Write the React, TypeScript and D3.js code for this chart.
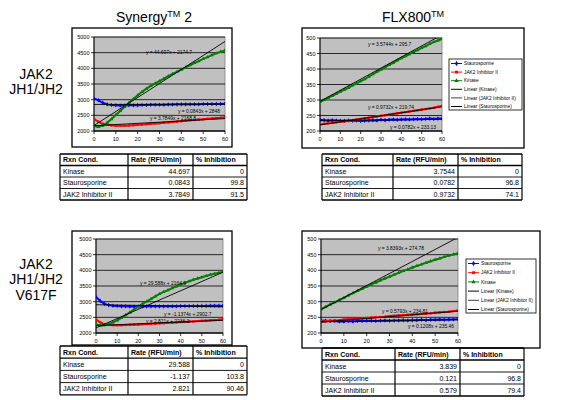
import React from "react";
import * as d3 from "d3";

// Reading times (min)
const minutes = [0, 2, 4, 6, 8, 10, 12, 14, 16, 18, 20, 22, 24, 26, 28, 30, 32, 34, 36, 38, 40, 42, 44, 46, 48, 50, 52, 54, 56, 58, 60];

// JAK2 JH1/JH2 — Synergy 2 (RFU)
const synKinaseA = [2160, 2130, 2170, 2260, 2380, 2510, 2640, 2770, 2900, 3020, 3140, 3250, 3350, 3440, 3520, 3590, 3670, 3750, 3820, 3890, 3960, 4030, 4100, 4170, 4230, 4300, 4360, 4420, 4480, 4530, 4570];
const synStauroA = [3040, 2980, 2900, 2850, 2830, 2820, 2815, 2815, 2820, 2820, 2825, 2830, 2830, 2835, 2835, 2840, 2840, 2845, 2845, 2850, 2850, 2850, 2855, 2855, 2855, 2860, 2860, 2860, 2865, 2865, 2870];
const synJakInhA = [2380, 2300, 2230, 2200, 2180, 2170, 2170, 2170, 2175, 2185, 2195, 2205, 2215, 2230, 2240, 2250, 2265, 2275, 2290, 2300, 2315, 2325, 2340, 2350, 2365, 2375, 2390, 2400, 2415, 2425, 2440];

// JAK2 JH1/JH2 — FLX800 (RFU)
const flxKinaseA = [294, 300, 307, 313, 320, 327, 333, 339, 347, 354, 361, 367, 375, 383, 391, 398, 406, 413, 420, 428, 435, 441, 448, 455, 461, 468, 474, 481, 487, 492, 497];
const flxStauroA = [236, 235, 234, 235, 234, 233, 233, 234, 233, 234, 232, 233, 234, 235, 234, 236, 235, 236, 237, 236, 237, 238, 237, 238, 239, 238, 239, 240, 239, 240, 240];
const flxJakInhA = [221, 223, 225, 226, 228, 230, 231, 233, 235, 237, 239, 241, 243, 245, 247, 249, 251, 253, 255, 257, 259, 261, 263, 265, 267, 269, 271, 273, 275, 278, 281];

// JAK2 JH1/JH2 V617F — Synergy 2 (RFU)
const synKinaseB = [2280, 2240, 2250, 2290, 2340, 2400, 2480, 2570, 2660, 2750, 2840, 2930, 3010, 3090, 3170, 3250, 3310, 3370, 3430, 3490, 3550, 3600, 3650, 3700, 3740, 3780, 3820, 3860, 3890, 3920, 3960];
const synStauroB = [3150, 3020, 2930, 2890, 2870, 2860, 2850, 2850, 2845, 2845, 2845, 2845, 2850, 2850, 2850, 2850, 2850, 2855, 2855, 2855, 2860, 2860, 2860, 2860, 2865, 2865, 2865, 2870, 2870, 2870, 2870];
const synJakInhB = [2430, 2340, 2280, 2260, 2250, 2250, 2250, 2255, 2260, 2265, 2270, 2280, 2285, 2295, 2300, 2310, 2315, 2325, 2330, 2340, 2350, 2355, 2365, 2370, 2380, 2390, 2395, 2405, 2415, 2425, 2440];

// JAK2 JH1/JH2 V617F — FLX800 (RFU)
const flxKinaseB = [276, 283, 291, 298, 305, 312, 320, 327, 334, 341, 348, 355, 361, 368, 374, 380, 386, 392, 398, 403, 409, 414, 419, 424, 429, 434, 438, 443, 447, 451, 455];
const flxStauroB = [240, 239, 238, 238, 237, 237, 238, 237, 238, 238, 239, 239, 238, 239, 240, 239, 240, 240, 241, 240, 241, 241, 242, 241, 242, 242, 243, 242, 243, 243, 244];
const flxJakInhB = [237, 238, 239, 240, 241, 243, 244, 245, 246, 247, 248, 249, 250, 251, 252, 254, 255, 256, 257, 258, 259, 260, 261, 262, 263, 265, 266, 267, 268, 270, 272];

// Linear fits [slope, intercept] in order Kinase, Staurosporine, JAK2 Inhibitor II
const synFitA = [[44.697, 2174.7], [0.0843, 2848], [3.7849, 2168.8]];
const flxFitA = [[3.5744, 295.7], [0.0782, 233.13], [0.9732, 219.74]];
const synFitB = [[29.588, 2164.9], [-1.1374, 2902.7], [2.821, 2236.2]];
const flxFitB = [[3.8393, 274.78], [0.1208, 235.46], [0.5793, 234.81]];

// Summary tables
const conditions = ["Kinase", "Staurosporine", "JAK2 Inhibitor II"];
const tableHeader = ["Rxn Cond.", "Rate (RFU/min)", "% Inhibition"];
const synRateA = ["44.697", "0.0843", "3.7849"];
const synInhA = ["0", "99.8", "91.5"];
const flxRateA = ["3.7544", "0.0782", "0.9732"];
const flxInhA = ["0", "96.8", "74.1"];
const synRateB = ["29.588", "-1.137", "2.821"];
const synInhB = ["0", "103.8", "90.46"];
const flxRateB = ["3.839", "0.121", "0.579"];
const flxInhB = ["0", "96.8", "79.4"];

const xTicks = [0, 10, 20, 30, 40, 50, 60];
const synYTicks = [2000, 2500, 3000, 3500, 4000, 4500, 5000];
const flxYTicks = [200, 250, 300, 350, 400, 450, 500];

const FONT = "Liberation Sans, Arial, sans-serif";
const BLUE = "#0000ff";
const RED = "#ff0000";
const GREEN = "#008000";

type Rect = { x: number; y: number; w: number; h: number };
type Pt = [number, number];

interface ChartProps {
  id: string;
  frame: Rect;
  plot: Rect;
  yTicks: number[];
  kinase: number[];
  stauro: number[];
  jak: number[];
  fits: number[][];
  labelPos: Pt[];
  legend?: Rect;
}

function fmtEq(slope: number, intercept: number) {
  return `y = ${slope}x + ${intercept}`;
}

function Chart({ id, frame, plot, yTicks, kinase, stauro, jak, fits, labelPos, legend }: ChartProps) {
  const x = d3.scaleLinear().domain([0, 60]).range([plot.x, plot.x + plot.w]);
  const y = d3
    .scaleLinear()
    .domain([yTicks[0], yTicks[yTicks.length - 1]])
    .range([plot.y + plot.h, plot.y]);
  const line = d3
    .line<number>()
    .x((_, i) => x(minutes[i]))
    .y((d) => y(d));

  const seriesList = [
    { name: "Staurosporine", values: stauro, color: BLUE, symbol: d3.symbolDiamond, size: 6 },
    { name: "JAK2 Inhibitor II", values: jak, color: RED, symbol: d3.symbolSquare, size: 5 },
    { name: "Kinase", values: kinase, color: GREEN, symbol: d3.symbolTriangle, size: 6 },
  ];
  const fitNames = ["Kinase", "JAK2 Inhibitor II", "Staurosporine"];

  return (
    <g>
      <defs>
        <clipPath id={`clip-${id}`}>
          <rect x={plot.x} y={plot.y} width={plot.w} height={plot.h} />
        </clipPath>
        {legend && (
          <clipPath id={`lclip-${id}`}>
            <rect x={legend.x} y={legend.y} width={legend.w} height={legend.h} />
          </clipPath>
        )}
      </defs>
      <rect x={frame.x} y={frame.y} width={frame.w} height={frame.h} fill="#fff" stroke="#000" strokeWidth={1.3} />
      <rect x={plot.x} y={plot.y} width={plot.w} height={plot.h} fill="#c0c0c0" stroke="#808080" strokeWidth={0.8} />
      {yTicks.map((t) => (
        <line key={`g${t}`} x1={plot.x} x2={plot.x + plot.w} y1={y(t)} y2={y(t)} stroke="#000" strokeWidth={0.8} />
      ))}
      <line x1={plot.x} x2={plot.x} y1={plot.y} y2={plot.y + plot.h} stroke="#000" strokeWidth={1} />
      <line x1={plot.x} x2={plot.x + plot.w} y1={plot.y + plot.h} y2={plot.y + plot.h} stroke="#000" strokeWidth={1} />
      {yTicks.map((t) => (
        <g key={`yt${t}`}>
          <line x1={plot.x - 3} x2={plot.x} y1={y(t)} y2={y(t)} stroke="#000" strokeWidth={0.8} />
          <text x={plot.x - 4.5} y={y(t) + 2} fontSize={5.5} textAnchor="end" fontFamily={FONT} fill="#000">
            {t}
          </text>
        </g>
      ))}
      {xTicks.map((t) => (
        <g key={`xt${t}`}>
          <line x1={x(t)} x2={x(t)} y1={plot.y + plot.h} y2={plot.y + plot.h + 3} stroke="#000" strokeWidth={0.8} />
          <text x={x(t)} y={plot.y + plot.h + 9.5} fontSize={5.5} textAnchor="middle" fontFamily={FONT} fill="#000">
            {t}
          </text>
        </g>
      ))}
      <g clipPath={`url(#clip-${id})`}>
        {seriesList.map((s) => (
          <g key={s.name}>
            <path d={line(s.values) || ""} fill="none" stroke={s.color} strokeWidth={2} />
            {s.values.map((v, i) => (
              <path
                key={i}
                d={d3.symbol().type(s.symbol).size(s.size)() || ""}
                transform={`translate(${x(minutes[i])},${y(v)})`}
                fill={s.color}
              />
            ))}
          </g>
        ))}
        {fits.map(([m, b], i) => (
          <line key={`f${i}`} x1={x(0)} y1={y(b)} x2={x(60)} y2={y(b + m * 60)} stroke="#000" strokeWidth={0.9} />
        ))}
      </g>
      {fits.map(([m, b], i) => (
        <text key={`eq${i}`} x={labelPos[i][0]} y={labelPos[i][1]} fontSize={4.9} fontFamily={FONT} fill="#000">
          {fmtEq(m, b)}
        </text>
      ))}
      {legend && (
        <g>
          <rect x={legend.x} y={legend.y} width={legend.w} height={legend.h} fill="#fff" stroke="#000" strokeWidth={0.8} />
          <g clipPath={`url(#lclip-${id})`}>
            {seriesList.map((s, i) => {
              const ly = legend.y + 4.5 + (i * (legend.h - 8)) / 5;
              return (
                <g key={`l${s.name}`}>
                  <line x1={legend.x + 2} x2={legend.x + 13} y1={ly} y2={ly} stroke={s.color} strokeWidth={1} />
                  <path d={d3.symbol().type(s.symbol).size(8)() || ""} transform={`translate(${legend.x + 7.5},${ly})`} fill={s.color} />
                  <text x={legend.x + 15} y={ly + 1.7} fontSize={4.8} fontFamily={FONT} fill="#000">
                    {s.name}
                  </text>
                </g>
              );
            })}
            {fitNames.map((n, j) => {
              const ly = legend.y + 4.5 + ((j + 3) * (legend.h - 8)) / 5;
              return (
                <g key={`lf${n}`}>
                  <line x1={legend.x + 2} x2={legend.x + 13} y1={ly} y2={ly} stroke={j === 1 ? "#404040" : "#000"} strokeWidth={1} />
                  <text x={legend.x + 15} y={ly + 1.7} fontSize={4.8} fontFamily={FONT} fill="#000">
                    {`Linear (${n})`}
                  </text>
                </g>
              );
            })}
          </g>
        </g>
      )}
    </g>
  );
}

interface TableProps {
  cols: number[];
  top: number;
  rowH: number;
  rates: string[];
  inhibitions: string[];
}

function Table({ cols, top, rowH, rates, inhibitions }: TableProps) {
  const rows = [tableHeader, ...conditions.map((c, i) => [c, rates[i], inhibitions[i]])];
  const bottom = top + rowH * rows.length;
  return (
    <g>
      {rows.map((r, ri) => {
        const cy = top + ri * rowH + rowH / 2 + 2.5;
        return (
          <g key={ri}>
            {r.map((cell, ci) => {
              const left = ci === 0 || ri === 0;
              const tx = left ? cols[ci] + 3 : cols[ci + 1] - 3;
              return (
                <text
                  key={ci}
                  x={tx}
                  y={cy}
                  fontSize={7}
                  fontWeight={ri === 0 ? "bold" : "normal"}
                  textAnchor={left ? "start" : "end"}
                  fontFamily={FONT}
                  fill="#000"
                >
                  {cell}
                </text>
              );
            })}
          </g>
        );
      })}
      {d3.range(rows.length + 1).map((i) => (
        <line
          key={`h${i}`}
          x1={cols[0]}
          x2={cols[cols.length - 1]}
          y1={top + i * rowH}
          y2={top + i * rowH}
          stroke="#000"
          strokeWidth={i === 0 || i === 1 || i === rows.length ? 1.3 : 0.9}
        />
      ))}
      {cols.map((c, i) => (
        <line key={`v${i}`} x1={c} x2={c} y1={top} y2={bottom} stroke="#000" strokeWidth={1.2} />
      ))}
    </g>
  );
}

export default function App() {
  const big = { fontFamily: FONT, fontSize: 14, fill: "#000" };
  return (
    <svg width={575} height={400} style={{ position: "absolute", left: 0, top: 0, background: "#fff" }}>
      <text x={154} y={22} textAnchor="middle" {...big}>
        Synergy<tspan fontSize={9} dy={-5}>TM</tspan>
        <tspan dy={5}> 2</tspan>
      </text>
      <text x={413} y={22} textAnchor="middle" {...big}>
        FLX800<tspan fontSize={9} dy={-5}>TM</tspan>
      </text>

      <text x={36} y={79} textAnchor="middle" {...big}>JAK2</text>
      <text x={36} y={94} textAnchor="middle" {...big}>JH1/JH2</text>
      <text x={36} y={269} textAnchor="middle" {...big}>JAK2</text>
      <text x={36} y={284} textAnchor="middle" {...big}>JH1/JH2</text>
      <text x={36} y={300} textAnchor="middle" {...big}>V617F</text>

      <Chart
        id="sa"
        frame={{ x: 72, y: 28, w: 160, h: 119 }}
        plot={{ x: 94, y: 37, w: 131, h: 94 }}
        yTicks={synYTicks}
        kinase={synKinaseA}
        stauro={synStauroA}
        jak={synJakInhA}
        fits={synFitA}
        labelPos={[[146, 54], [178, 113], [150, 120]]}
      />
      <Chart
        id="fa"
        frame={{ x: 302, y: 28, w: 222, h: 120 }}
        plot={{ x: 320, y: 38, w: 122, h: 93 }}
        yTicks={flxYTicks}
        kinase={flxKinaseA}
        stauro={flxStauroA}
        jak={flxJakInhA}
        fits={flxFitA}
        labelPos={[[368, 46], [390, 129], [368, 109]]}
        legend={{ x: 449, y: 59, w: 73, h: 51 }}
      />
      <Chart
        id="sb"
        frame={{ x: 72, y: 231, w: 160, h: 114 }}
        plot={{ x: 96, y: 239, w: 127, h: 94 }}
        yTicks={synYTicks}
        kinase={synKinaseB}
        stauro={synStauroB}
        jak={synJakInhB}
        fits={synFitB}
        labelPos={[[140, 285], [164, 316], [146, 323]]}
      />
      <Chart
        id="fb"
        frame={{ x: 302, y: 231, w: 238, h: 117 }}
        plot={{ x: 321, y: 239, w: 137, h: 94 }}
        yTicks={flxYTicks}
        kinase={flxKinaseB}
        stauro={flxStauroB}
        jak={flxJakInhB}
        fits={flxFitB}
        labelPos={[[378, 250], [408, 328], [382, 313]]}
        legend={{ x: 466, y: 259, w: 70, h: 54 }}
      />

      <Table cols={[60, 128, 193, 247]} top={154} rowH={11.5} rates={synRateA} inhibitions={synInhA} />
      <Table cols={[322, 393, 458, 522]} top={154} rowH={11.5} rates={flxRateA} inhibitions={flxInhA} />
      <Table cols={[60, 128, 193, 247]} top={346} rowH={12.2} rates={synRateB} inhibitions={synInhB} />
      <Table cols={[322, 395, 460, 524]} top={348} rowH={12} rates={flxRateB} inhibitions={flxInhB} />
    </svg>
  );
}
